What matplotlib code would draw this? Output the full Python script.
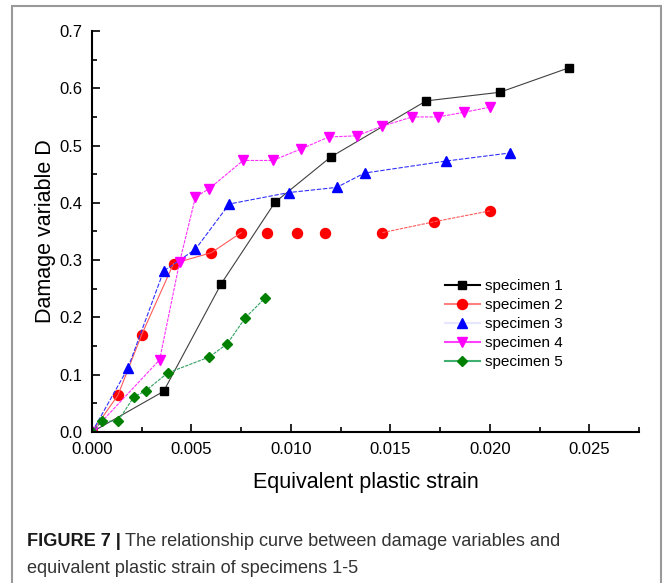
import matplotlib.pyplot as plt
from matplotlib.patches import Rectangle
from matplotlib.ticker import MultipleLocator

plt.rcParams['font.family'] = ['Liberation Sans', 'DejaVu Sans']

# data
s1_x = [0, 0.0036, 0.0065, 0.0092, 0.0120, 0.0168, 0.0205, 0.0240]
s1_y = [0, 0.071, 0.259, 0.401, 0.480, 0.578, 0.593, 0.636]

s2_x = [0, 0.0013, 0.0025, 0.0041, 0.0060, 0.0075, 0.0088, 0.0103, 0.0117, 0.0146, 0.0172, 0.0200]
s2_y = [0, 0.064, 0.170, 0.294, 0.313, 0.348, 0.348, 0.348, 0.348, 0.348, 0.367, 0.386]

s3_x = [0, 0.0018, 0.0036, 0.0052, 0.0069, 0.0099, 0.0123, 0.0137, 0.0178, 0.0210]
s3_y = [0, 0.111, 0.281, 0.319, 0.398, 0.418, 0.427, 0.452, 0.473, 0.487]

s4_x = [0, 0.0034, 0.0044, 0.0052, 0.0059, 0.0076, 0.0091, 0.0105, 0.0119, 0.0133,
        0.0146, 0.0161, 0.0174, 0.0187, 0.0200]
s4_y = [0, 0.126, 0.296, 0.410, 0.425, 0.474, 0.474, 0.494, 0.515, 0.517,
        0.534, 0.550, 0.550, 0.558, 0.567]

s5_x = [0, 0.0005, 0.0013, 0.0021, 0.0027, 0.0038, 0.0059, 0.0068, 0.0077, 0.0087]
s5_y = [0, 0.019, 0.019, 0.061, 0.072, 0.103, 0.131, 0.154, 0.199, 0.234]

labels = ['specimen 1', 'specimen 2', 'specimen 3', 'specimen 4', 'specimen 5']

fig = plt.figure(figsize=(6.64, 5.83), dpi=100)
ax = fig.add_axes([92/664, 1 - 432/583, 547/664, 401/583])

# specimen 1
ax.plot(s1_x, s1_y, '-', color='#404040', lw=0.8, marker='s', ms=6.3,
        mfc='black', mec='black', label=labels[0])
# specimen 2 - the line is broken between 0.0075 and 0.0146
ax.plot(s2_x, s2_y, ls='none', marker='o', ms=7.2, mfc='red', mec='red', label=labels[1])
ax.plot(s2_x[:6], s2_y[:6], '-', color='#ff5a5a', lw=0.8)
ax.plot(s2_x[9:], s2_y[9:], '--', color='#ff5a5a', lw=0.8, dashes=(3, 1))
# specimen 3
ax.plot(s3_x, s3_y, '--', color='#3030ff', lw=0.8, dashes=(4, 1.5), marker='^', ms=7.7,
        mfc='blue', mec='blue', label=labels[2])
# specimen 4
ax.plot(s4_x, s4_y, '--', color='#ff30ff', lw=0.8, dashes=(3, 1), marker='v', ms=7.7,
        mfc='magenta', mec='magenta', label=labels[3])
# specimen 5
ax.plot(s5_x, s5_y, '--', color='#30a060', lw=0.8, dashes=(3, 1), marker='D', ms=5.6,
        mfc='green', mec='green', label=labels[4])

ax.set_xlim(0, 0.0275)
ax.set_ylim(0, 0.7)
ax.xaxis.set_major_locator(MultipleLocator(0.005))
ax.xaxis.set_minor_locator(MultipleLocator(0.0025))
ax.yaxis.set_major_locator(MultipleLocator(0.1))
ax.yaxis.set_minor_locator(MultipleLocator(0.05))
ax.xaxis.set_major_formatter(plt.FuncFormatter(lambda v, p: '%.3f' % v))
ax.yaxis.set_major_formatter(plt.FuncFormatter(lambda v, p: '%.1f' % v))

for s in ['top', 'right']:
    ax.spines[s].set_visible(False)
for s in ['left', 'bottom']:
    ax.spines[s].set_linewidth(1.5)
ax.tick_params(which='major', direction='in', length=6, width=1.2, labelsize=12, pad=7)
ax.tick_params(which='minor', direction='in', length=3.5, width=1.2)

ax.set_xlabel('Equivalent plastic strain', fontsize=15.5, labelpad=11)
ax.set_ylabel('Damage variable D', fontsize=15.5, labelpad=2)

leg = ax.legend(loc='upper left', bbox_to_anchor=(0.645, 0.381), frameon=False,
                fontsize=11, handlelength=2.3, handletextpad=0.35,
                labelspacing=0.33, borderpad=0, borderaxespad=0)
leg_colors = ['black', '#ff8080', '#e6e6ff', '#ff40ff', '#40b070']
for ln, c in zip(leg.get_lines(), leg_colors):
    ln.set_color(c)
    ln.set_linestyle('-')
    ln.set_linewidth(1.5)

# outer frame and caption
fig.patches.append(Rectangle((12/664, -0.02), 649/664, 1.02 - 6/583, transform=fig.transFigure,
                             fill=False, edgecolor='#999999', lw=1.5))
r = fig.canvas.get_renderer()
t1 = fig.text(27/664, 1 - 546/583, 'FIGURE 7 |', fontsize=13.1, fontweight='bold',
              color='#1a1a1a', va='baseline')
bb = t1.get_window_extent(renderer=r)
fig.text(bb.x1/664 + 4/664, 1 - 546/583, 'The relationship curve between damage variables and',
         fontsize=13.1, color='#333333', va='baseline')
fig.text(27/664, 1 - 573/583, 'equivalent plastic strain of specimens 1-5',
         fontsize=13.1, color='#333333', va='baseline')

fig.savefig('out.png', dpi=100)
